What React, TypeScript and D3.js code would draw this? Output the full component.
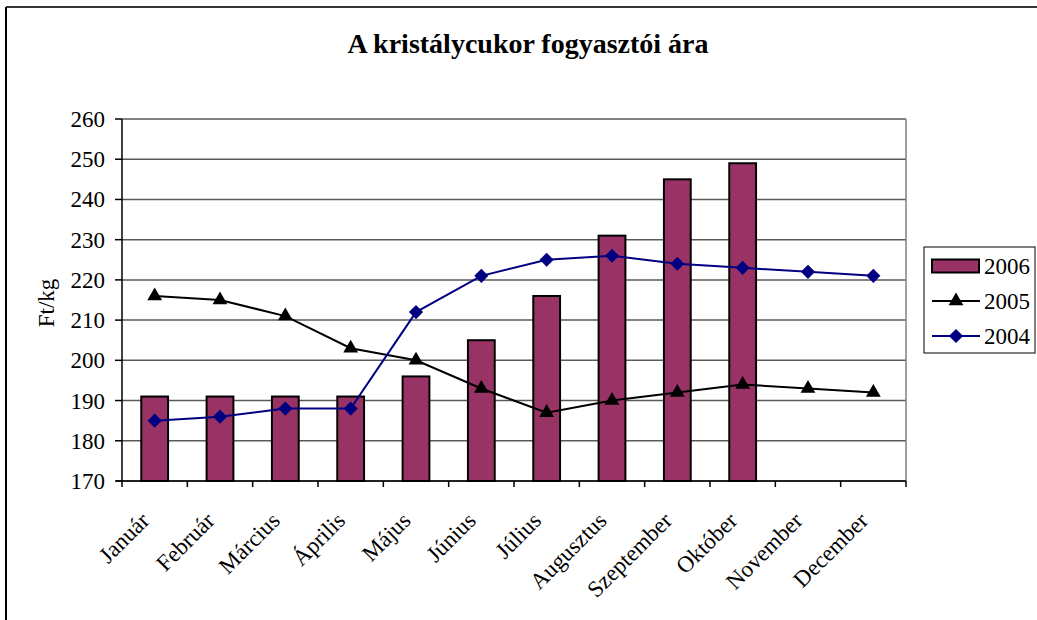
import React from "react";
import * as d3 from "d3";

const months = ["Január","Február","Március","Április","Május","Június","Július","Augusztus","Szeptember","Október","November","December"];
const s2006: (number | null)[] = [191,191,191,191,196,205,216,231,245,249,null,null];
const s2005 = [216,215,211,203,200,193,187,190,192,194,193,192];
const s2004 = [185,186,188,188,212,221,225,226,224,223,222,221];
const yTicks = [170,180,190,200,210,220,230,240,250,260];
const legendItems = ["2006","2005","2004"];

const W = 1037, H = 620;
const L = 122, R = 906, T = 119, B = 481;
const FONT = "'Liberation Serif', 'Times New Roman', serif";

export default function App() {
  const x = d3.scaleBand<string>().domain(months).range([L, R]).paddingInner(0).paddingOuter(0);
  const y = d3.scaleLinear().domain([170, 260]).range([B, T]);
  const bw = x.bandwidth();
  const cx = (i: number) => (x(months[i]) as number) + bw / 2;
  const barW = bw * 0.41;
  const line = d3.line<number>().x((_, i) => cx(i)).y(d => y(d));
  const tri = d3.symbol().type(d3.symbolTriangle).size(95)();
  const dia = d3.symbol().type(d3.symbolSquare).size(100)();

  const boundaries = d3.range(months.length + 1).map(i => L + i * bw);

  return (
    <svg width={W} height={H} style={{ position: "absolute", left: 0, top: 0, background: "#fff", fontFamily: FONT }}>
      <rect x={0} y={0} width={W} height={H} fill="#fff" />
      {/* outer frame */}
      <line x1={6} y1={7} x2={W} y2={7} stroke="#333" strokeWidth={2} />
      <line x1={6} y1={7} x2={6} y2={H} stroke="#000" strokeWidth={2} />
      {/* title */}
      <text x={528} y={53} textAnchor="middle" fontSize={28} fontWeight="bold">A kristálycukor fogyasztói ára</text>
      {/* gridlines */}
      {yTicks.map(t => (
        <line key={t} x1={L} x2={R} y1={y(t)} y2={y(t)} stroke="#5a5a5a" strokeWidth={1.5} />
      ))}
      <line x1={R} x2={R} y1={T} y2={B} stroke="#808080" strokeWidth={1.5} />
      {/* bars */}
      {s2006.map((v, i) => v == null ? null : (
        <rect key={i} x={cx(i) - barW / 2} y={y(v)} width={barW} height={B - y(v)} fill="#993366" stroke="#000" strokeWidth={2} />
      ))}
      {/* axes */}
      <line x1={L} x2={L} y1={T} y2={B} stroke="#000" strokeWidth={1.5} />
      <line x1={L - 6} x2={R} y1={B} y2={B} stroke="#000" strokeWidth={1.5} />
      {yTicks.map(t => (
        <g key={t}>
          <line x1={L - 7} x2={L} y1={y(t)} y2={y(t)} stroke="#000" strokeWidth={1.5} />
          <text x={105} y={y(t)} dy="0.35em" textAnchor="end" fontSize={23}>{t}</text>
        </g>
      ))}
      {boundaries.map((b, i) => (
        <line key={i} x1={b} x2={b} y1={B} y2={B + 6} stroke="#000" strokeWidth={1.5} />
      ))}
      {months.map((m, i) => (
        <text key={m} transform={`translate(${cx(i) - 4},${B + 41}) rotate(-45)`} textAnchor="end" fontSize={23}>{m}</text>
      ))}
      {/* y label */}
      <text transform={`translate(54,303) rotate(-90)`} textAnchor="middle" fontSize={23}>Ft/kg</text>
      {/* lines */}
      <path d={line(s2005) as string} fill="none" stroke="#000" strokeWidth={2} />
      {s2005.map((v, i) => <path key={i} d={tri as string} transform={`translate(${cx(i)},${y(v)})`} fill="#000" />)}
      <path d={line(s2004) as string} fill="none" stroke="#000080" strokeWidth={2} />
      {s2004.map((v, i) => <path key={i} d={dia as string} transform={`translate(${cx(i)},${y(v)}) rotate(45)`} fill="#000080" />)}
      {/* legend */}
      <rect x={924} y={247} width={111} height={106} fill="#fff" stroke="#000" strokeWidth={1} />
      {legendItems.map((it, k) => {
        const ly = 266 + k * 35;
        return (
          <g key={it}>
            {k === 0 && <rect x={932} y={ly - 6.5} width={47} height={13} fill="#993366" stroke="#000" strokeWidth={2} />}
            {k === 1 && <><line x1={932} x2={980} y1={ly} y2={ly} stroke="#000" strokeWidth={2} /><path d={tri as string} transform={`translate(956,${ly})`} fill="#000" /></>}
            {k === 2 && <><line x1={932} x2={980} y1={ly} y2={ly} stroke="#000080" strokeWidth={2} /><path d={dia as string} transform={`translate(956,${ly}) rotate(45)`} fill="#000080" /></>}
            <text x={984} y={ly} dy="0.35em" fontSize={23}>{it}</text>
          </g>
        );
      })}
    </svg>
  );
}
